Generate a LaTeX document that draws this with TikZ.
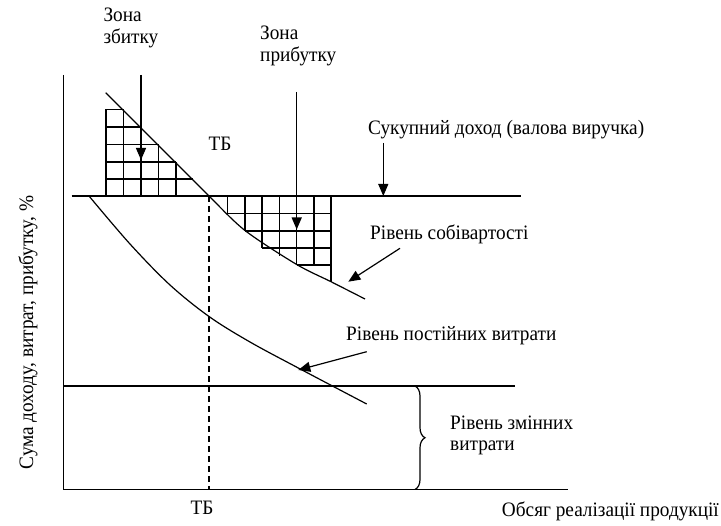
\documentclass[tikz,border=0pt]{standalone}
\usepackage{fontspec}
\setmainfont{Liberation Serif}[FakeStretch=0.94]
\usetikzlibrary{arrows.meta,decorations.pathreplacing}
\begin{document}
\begin{tikzpicture}[x=1pt,y=-1pt,
  lbl/.style={inner sep=0pt,font=\fontsize{20.5}{22}\selectfont,anchor=base west},
  ln/.style={line width=1.2pt},
  grd/.style={line width=1.2pt},
  arr/.style={line width=1.2pt,-{Triangle[length=12pt,width=10pt]}},
  dashln/.style={line width=1.2pt,dash pattern=on 6pt off 4pt},
]
\useasboundingbox (0,0) rectangle (721,526);

% axes and horizontal levels
\coordinate (ytop) at (63.5,75);
\coordinate (orig) at (63.5,489.5);
\coordinate (xend) at (568,489.5);
\draw[ln] (ytop) -- (orig) -- (xend);
\coordinate (revL) at (71.7,196);
\coordinate (revR) at (521,196);
\draw[ln] (revL) -- (revR);
\coordinate (varL) at (63.5,386);
\coordinate (varR) at (515,386);
\draw[ln] (varL) -- (varR);
\coordinate (tbtop) at (209,196);
\coordinate (tbbot) at (209,489.5);
\draw[dashln] (tbtop) -- (tbbot);

% loss zone grid
\draw[grd] (106,109.5) -- (123.5,109.5)
  (106,127) -- (141,127)
  (106,144.5) -- (158.5,144.5)
  (106,162) -- (176,162)
  (106,179) -- (192.5,179)
  (106,109.5) -- (106,196)
  (123.5,109.5) -- (123.5,196)
  (141,127) -- (141,196)
  (158.5,144.5) -- (158.5,196)
  (176,162) -- (176,196);

% profit zone grid
\draw[grd] (226,213.5) -- (331,213.5)
  (245,231) -- (331,231)
  (262,248) -- (331,248)
  (296.7,265) -- (331,265)
  (227.5,196) -- (227.5,213.5)
  (245,196) -- (245,231)
  (262,196) -- (262,248)
  (279.5,196) -- (279.5,256.5)
  (296.7,196) -- (296.7,265)
  (314,196) -- (314,265)
  (331,196) -- (331,281.7);

% cost level curve
\draw[ln] plot[smooth,tension=0.5] coordinates {(105.7,92.7) (176,163) (209,196) (245,230.5) (296.7,264.5) (331,281.7) (365,299)};
% fixed cost curve
\draw[ln] plot[smooth,tension=0.55] coordinates {(89,196) (130,244) (170,285) (209.3,316.7) (250,342) (298.3,368) (366.7,404)};

% brace
\coordinate (brT) at (415,386);
\coordinate (brB) at (415,489.5);
\draw[line width=1.2pt,decorate,decoration={brace,amplitude=10pt}] (brT) -- (brB);

% labels
\node[lbl] (zz1) at (103.3,21.7) {Зона};
\node[lbl] (zz2) at (103.3,43.3) {збитку};
\node[lbl] (zp1) at (260,40) {Зона};
\node[lbl] (zp2) at (260,61.5) {прибутку};
\node[lbl] (tb1) at (208.3,151) {ТБ};
\node[lbl] (tb2) at (190.4,515) {ТБ};
\node[lbl] (rev) at (368,135) {Сукупний доход (валова виручка)};
\node[lbl] (cost) at (370,240) {Рівень собівартості};
\node[lbl] (fix) at (346,341) {Рівень постійних витрати};
\node[lbl] (var1) at (450,430) {Рівень змінних};
\node[lbl] (var2) at (450,451) {витрати};
\node[lbl,anchor=base east] (xlab) at (719,516.5) {Обсяг реалізації продукції};
\node[lbl,anchor=base,rotate=90] (ylab) at (33,332.5) {Сума доходу, витрат, прибутку, \%};

% arrows
\coordinate (a1s) at (141,75);
\coordinate (a1e) at (141,160);
\draw[arr] (a1s) -- (a1e);
\coordinate (a2s) at (296.7,92);
\coordinate (a2e) at (296.7,229.5);
\draw[arr] (a2s) -- (a2e);
\coordinate (a3s) at (383.3,143);
\coordinate (a3e) at (383.3,196);
\draw[arr] (a3s) -- (a3e);
\coordinate (a4s) at (400,248.3);
\coordinate (a4e) at (348.3,281.7);
\draw[arr] (a4s) -- (a4e);
\coordinate (a5s) at (366.7,351.7);
\coordinate (a5e) at (298.3,370);
\draw[arr] (a5s) -- (a5e);
\end{tikzpicture}
\end{document}
